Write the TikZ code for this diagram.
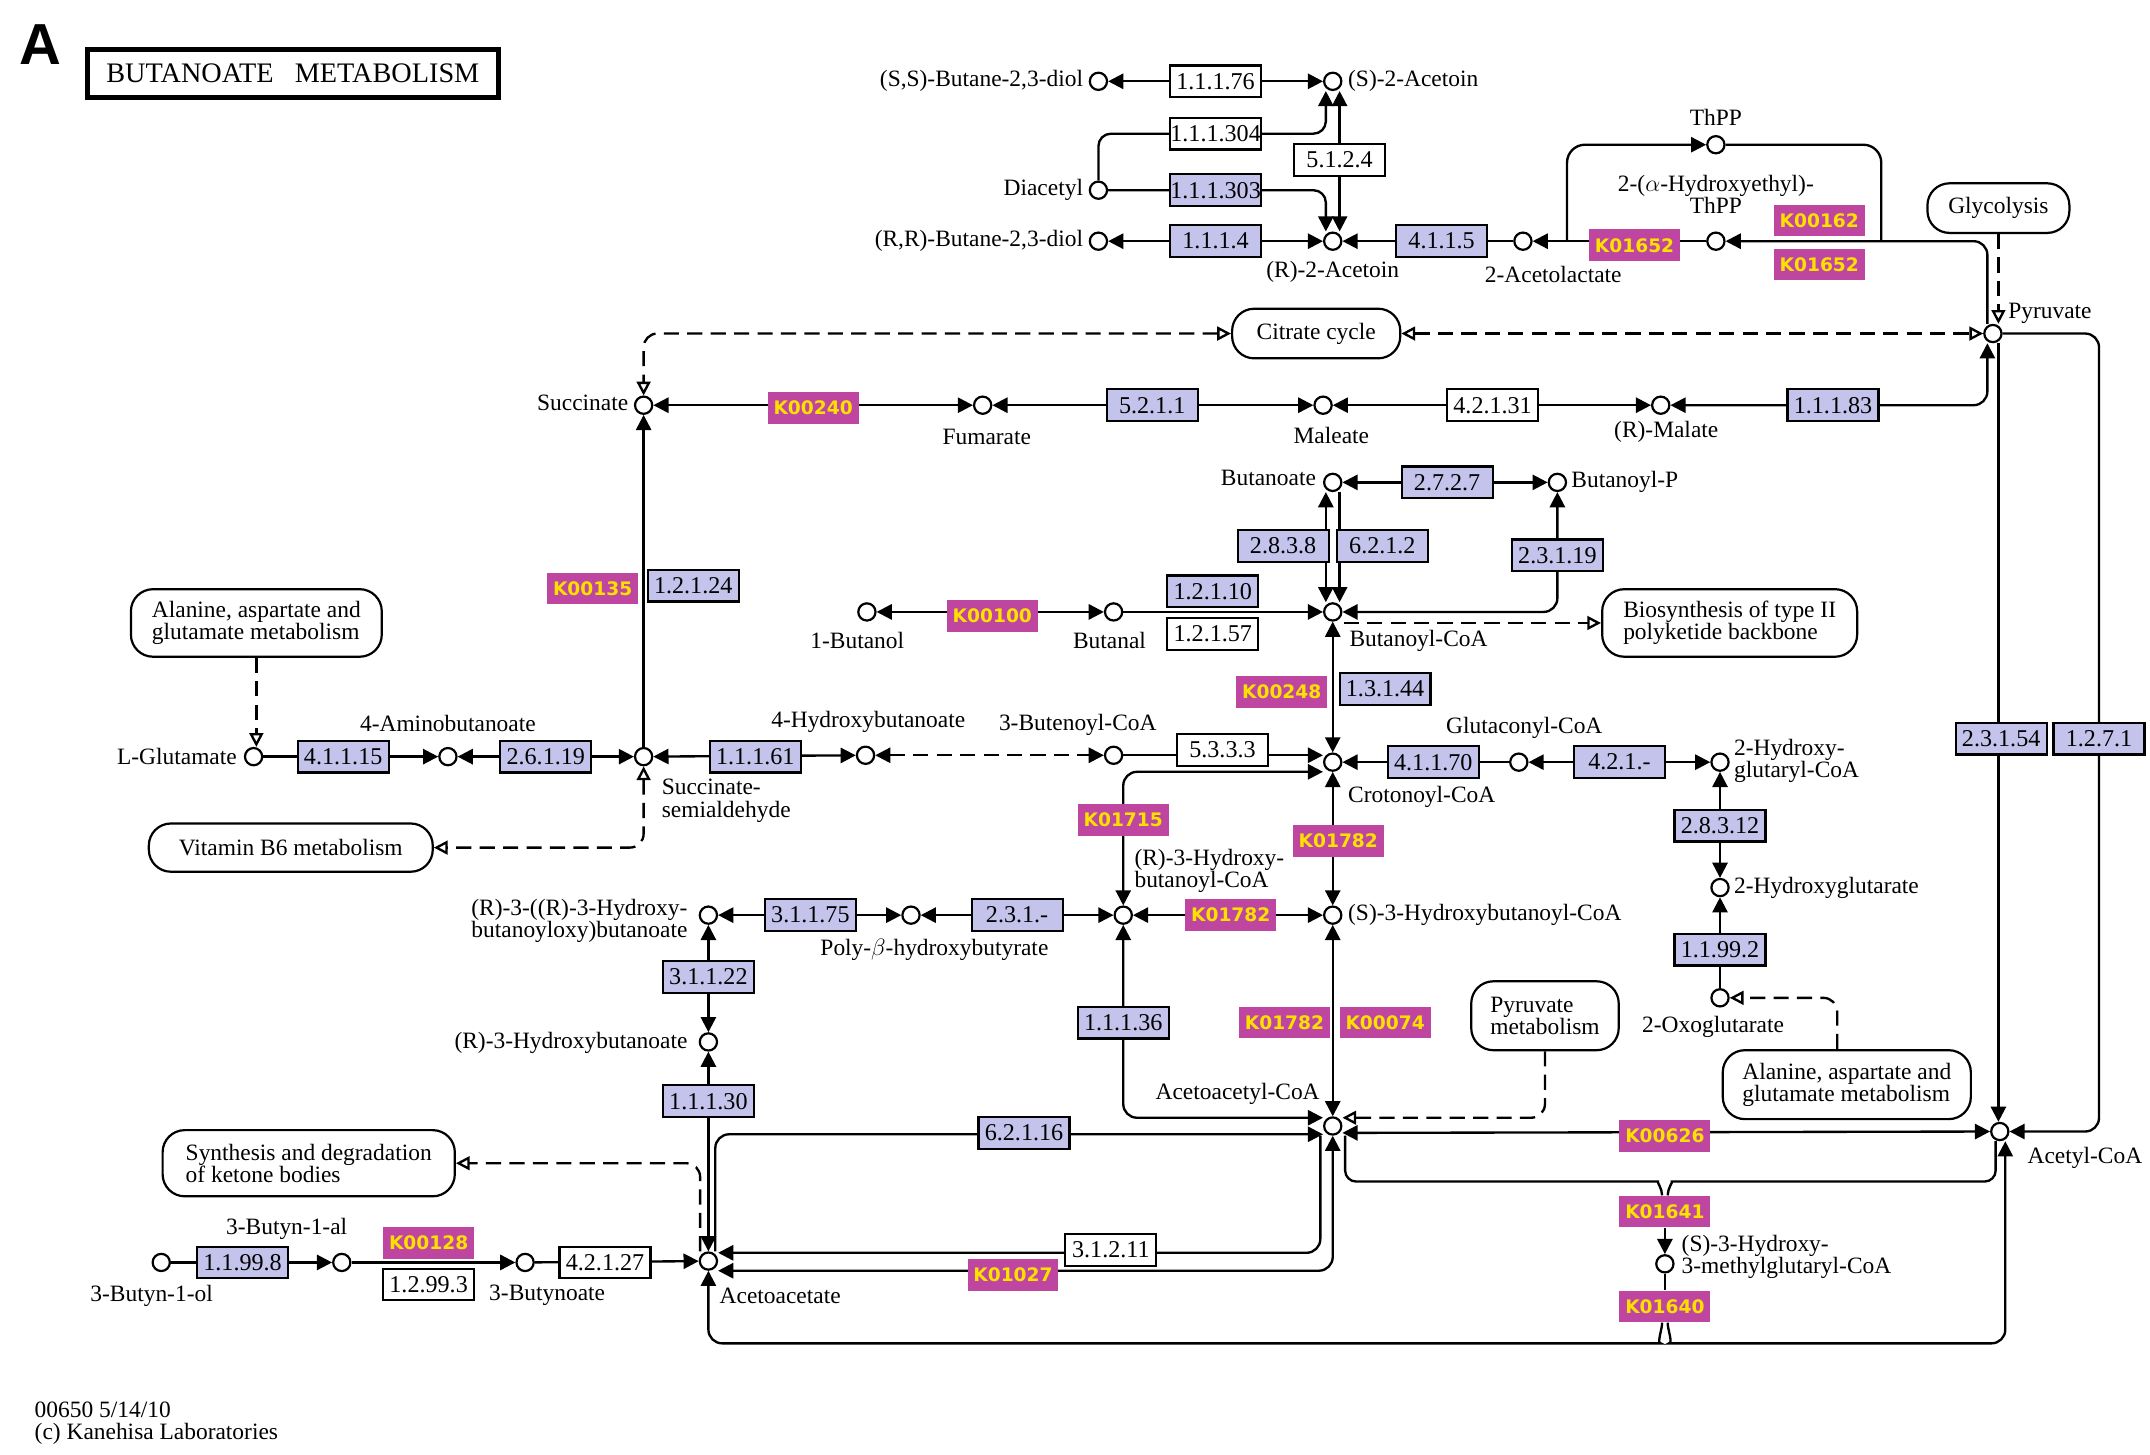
\documentclass[tikz,border=0pt]{standalone}
\usepackage{fontspec}
\setmainfont{Liberation Serif}
\newfontfamily\kofam{DejaVu Sans}
\newfontfamily\hfam{Liberation Sans}
\usetikzlibrary{arrows.meta,calc,backgrounds}
\definecolor{ecfill}{RGB}{195,195,235}
\definecolor{kofill}{RGB}{190,70,160}
\definecolor{koyel}{RGB}{255,225,0}
\newcommand\lblf{\fontsize{17}{16}\selectfont}
\newcommand\ecf{\fontsize{17.5}{17}\selectfont}
\newcommand\kof{\kofam\bfseries\fontsize{13.5}{14}\selectfont}
\tikzset{
 cpd/.style={circle,draw,fill=white,line width=1.6pt,inner sep=0pt,minimum size=12.5pt},
 ec/.style={draw,line width=1.6pt,fill=ecfill,minimum width=66pt,minimum height=23pt,inner sep=0pt,font=\ecf},
 ecw/.style={ec,fill=white},
 ko/.style={fill=kofill,minimum width=66pt,minimum height=23pt,inner sep=0pt,text=koyel,font=\kof},
 mapbox/.style={draw,rounded corners=16pt,line width=1.6pt,fill=white,align=left,font=\lblf,inner sep=0pt},
 lbl/.style={font=\lblf,inner sep=1pt,align=left},
 ln/.style={line width=1.7pt},
 dsh/.style={line width=1.7pt,dash pattern=on 11pt off 6pt},
 ar/.style={-{Triangle[length=11pt,width=11pt]}},
 ab/.style={{Triangle[length=11pt,width=11pt]}-{Triangle[length=11pt,width=11pt]}},
 oa/.style={-{Triangle[open,length=10pt,width=10pt]}},
 oo/.style={{Triangle[open,length=10pt,width=10pt]}-{Triangle[open,length=10pt,width=10pt]}},
}
\begin{document}
\begin{tikzpicture}[x=1pt,y=-1pt]
\useasboundingbox (0,0) rectangle (1560,1055);

% title
\node[font=\hfam\bfseries\fontsize{42}{42}\selectfont,inner sep=0pt] (lettera) at (29,32) {A};
\node[draw,line width=3.5pt,minimum width=298pt,minimum height=35pt,inner sep=0pt,font=\fontsize{20.5}{20}\selectfont] (title) at (212.5,53.5) {BUTANOATE\ \ \ METABOLISM};

% compounds
\foreach \n/\x/\y in {ssdiol/797/59, sac/967/59, diac/797/138, rrdiol/797/175, rac/967/175,
  acl/1105/175, heth/1245/175, thpp/1245/105, pyr/1446/242, succ/467/294, fum/713/294,
  mal/960/294, rmal/1205/294, buta/967/350, butp/1130/350, butanol/629/444, butanal/808/444,
  bcoa/967/444, glu/184/549, gaba/325/549, ssa/467/549, hba/628/548, butenoyl/808/548,
  crot/967/553, glut/1102/553, hgcoa/1248/553, hglut/1248/644, oxo/1248/724, r3r3/514/664,
  poly/661/664, r3hb/815/664, s3hb/967/664, r3hbut/514/756, acoa/967/817, acet/1451/821,
  acac/514/915, byol/117/916, byal/248/916, bynoate/381/916, hmg/1208/917}
  {\node[cpd] (\n) at (\x,\y) {};}

\coordinate (loopL) at (1137,175);
\coordinate (loopR) at (1365,175);

% compound labels
\node[lbl,anchor=east] (tssdiol) at (787,59) {(S,S)-Butane-2,3-diol};
\node[lbl,anchor=west] (tsac) at (977,59) {(S)-2-Acetoin};
\node[lbl,anchor=east] (tdiac) at (787,138) {Diacetyl};
\node[lbl,anchor=east] (trrdiol) at (787,175) {(R,R)-Butane-2,3-diol};
\node[lbl] (trac) at (967,197) {(R)-2-Acetoin};
\node[lbl] (tacl) at (1127,199) {2-Acetolactate};
\node[lbl] (tthpp) at (1245,85) {ThPP};
\node[lbl,align=center] (theth) at (1245,141) {2-($\alpha$-Hydroxyethyl)-\\ThPP};
\node[lbl,anchor=west] (tpyr) at (1456,227) {Pyruvate};
\node[lbl,anchor=east] (tsucc) at (457,292) {Succinate};
\node[lbl] (tfum) at (716,317) {Fumarate};
\node[lbl] (tmal) at (966,316) {Maleate};
\node[lbl] (trmal) at (1209,313) {(R)-Malate};
\node[lbl,anchor=east] (tbuta) at (956,347) {Butanoate};
\node[lbl,anchor=west] (tbutp) at (1139,350) {Butanoyl-P};
\node[lbl] (tbutanol) at (622,465) {1-Butanol};
\node[lbl] (tbutanal) at (805,465) {Butanal};
\node[lbl,anchor=west] (tbcoa) at (978,465) {Butanoyl-CoA};
\node[lbl,anchor=east] (tglu) at (173,549) {L-Glutamate};
\node[lbl] (tgaba) at (325,525) {4-Aminobutanoate};
\node[lbl,anchor=west] (tssa) at (479,581) {Succinate-\\semialdehyde};
\node[lbl] (thba) at (630,524) {4-Hydroxybutanoate};
\node[lbl] (tbutenoyl) at (782,526) {3-Butenoyl-CoA};
\node[lbl] (tglut) at (1106,528) {Glutaconyl-CoA};
\node[lbl,anchor=west] (thgcoa) at (1257,552) {2-Hydroxy-\\glutaryl-CoA};
\node[lbl,anchor=west] (tcrot) at (977,578) {Crotonoyl-CoA};
\node[lbl,anchor=west] (tr3hb) at (822,632) {(R)-3-Hydroxy-\\butanoyl-CoA};
\node[lbl,anchor=west] (ts3hb) at (977,664) {(S)-3-Hydroxybutanoyl-CoA};
\node[lbl,anchor=east] (tr3r3) at (500,668) {(R)-3-((R)-3-Hydroxy-\\butanoyloxy)butanoate};
\node[lbl] (tpoly) at (678,689) {Poly-$\beta$-hydroxybutyrate};
\node[lbl,anchor=west] (thglut) at (1257,644) {2-Hydroxyglutarate};
\node[lbl] (toxo) at (1243,745) {2-Oxoglutarate};
\node[lbl,anchor=east] (tr3hbut) at (500,757) {(R)-3-Hydroxybutanoate};
\node[lbl] (tacoa) at (898,794) {Acetoacetyl-CoA};
\node[lbl,anchor=west] (tacet) at (1470,840) {Acetyl-CoA};
\node[lbl] (tbyal) at (208,892) {3-Butyn-1-al};
\node[lbl] (tbyol) at (110,940) {3-Butyn-1-ol};
\node[lbl] (tbynoate) at (397,940) {3-Butynoate};
\node[lbl,anchor=west] (tacac) at (521,940) {Acetoacetate};
\node[lbl,anchor=west] (thmg) at (1219,912) {(S)-3-Hydroxy-\\3-methylglutaryl-CoA};
\node[lbl,anchor=north west] (foot) at (24,1016) {00650 5/14/10\\(c) Kanehisa Laboratories};

% map boxes
\node[mapbox,minimum width=103pt,minimum height=36pt] (glyc) at (1450,151) {Glycolysis};
\node[mapbox,minimum width=122pt,minimum height=36pt] (cit) at (955,242) {Citrate cycle};
\node[mapbox,minimum width=182pt,minimum height=49pt] (ala1) at (186,452) {Alanine, aspartate and\\glutamate metabolism};
\node[mapbox,minimum width=185pt,minimum height=49pt] (bio) at (1255,452) {Biosynthesis of type II\\polyketide backbone};
\node[mapbox,minimum width=206pt,minimum height=35pt] (vitb6) at (211,615) {Vitamin B6 metabolism};
\node[mapbox,minimum width=107pt,minimum height=50pt] (pyrmet) at (1121,737) {Pyruvate\\metabolism};
\node[mapbox,minimum width=180pt,minimum height=50pt] (ala2) at (1340,787) {Alanine, aspartate and\\glutamate metabolism};
\node[mapbox,minimum width=212pt,minimum height=48pt] (ketone) at (224,844) {Synthesis and degradation\\of ketone bodies};

% enzyme boxes
\node[ecw] (e1176) at (882,59) {1.1.1.76};
\node[ecw] (e1304) at (882,97) {1.1.1.304};
\node[ecw] (e5124) at (972,116) {5.1.2.4};
\node[ec] (e1303) at (882,138) {1.1.1.303};
\node[ec] (e1114) at (882,175) {1.1.1.4};
\node[ec] (e4115) at (1046,175) {4.1.1.5};
\node[ec] (e5211) at (836,294) {5.2.1.1};
\node[ecw] (e42131) at (1083,294) {4.2.1.31};
\node[ec] (e11183) at (1330,294) {1.1.1.83};
\node[ec] (e2727) at (1050,350) {2.7.2.7};
\node[ec] (e2838) at (931,396) {2.8.3.8};
\node[ec] (e6212) at (1003,396) {6.2.1.2};
\node[ec] (e23119) at (1130,403) {2.3.1.19};
\node[ec] (e12124) at (503,425) {1.2.1.24};
\node[ec] (e12110) at (880,429) {1.2.1.10};
\node[ecw] (e12157) at (880,460) {1.2.1.57};
\node[ec] (e13144) at (1005,500) {1.3.1.44};
\node[ec] (e41115) at (249,549) {4.1.1.15};
\node[ec] (e26119) at (396,549) {2.6.1.19};
\node[ec] (e11161) at (548,549) {1.1.1.61};
\node[ecw] (e5333) at (887,544) {5.3.3.3};
\node[ec] (e41170) at (1040,553) {4.1.1.70};
\node[ec] (e421) at (1175,553) {4.2.1.-};
\node[ec] (e23154) at (1452,536) {2.3.1.54};
\node[ec] (e1271) at (1523,536) {1.2.7.1};
\node[ec] (e28312) at (1248,599) {2.8.3.12};
\node[ec] (e31175) at (588,664) {3.1.1.75};
\node[ec] (e231) at (738,664) {2.3.1.-};
\node[ec] (e11992) at (1248,689) {1.1.99.2};
\node[ec] (e31122) at (514,709) {3.1.1.22};
\node[ec] (e11136) at (815,742) {1.1.1.36};
\node[ec] (e11130) at (514,799) {1.1.1.30};
\node[ec] (e62116) at (743,822) {6.2.1.16};
\node[ec] (e11998) at (176,916) {1.1.99.8};
\node[ecw] (e12993) at (311,932) {1.2.99.3};
\node[ecw] (e42127) at (439,916) {4.2.1.27};
\node[ecw] (e31211) at (806,907) {3.1.2.11};

% KO boxes
\node[ko] (k1652a) at (1186,178) {K01652};
\node[ko] (k0162) at (1320,160) {K00162};
\node[ko] (k1652b) at (1320,192) {K01652};
\node[ko] (k0240) at (590,296) {K00240};
\node[ko] (k0135) at (430,427) {K00135};
\node[ko] (k0100) at (720,447) {K00100};
\node[ko] (k0248) at (930,502) {K00248};
\node[ko] (k1715) at (815,595) {K01715};
\node[ko] (k1782a) at (971,610) {K01782};
\node[ko] (k1782b) at (893,664) {K01782};
\node[ko] (k1782c) at (932,742) {K01782};
\node[ko] (k0074) at (1005,742) {K00074};
\node[ko] (k0626) at (1208,824) {K00626};
\node[ko] (k1641) at (1208,879) {K01641};
\node[ko] (k0128) at (311,902) {K00128};
\node[ko] (k1027) at (735,925) {K01027};
\node[ko] (k1640) at (1208,948) {K01640};

\begin{scope}[on background layer]
\fill[white] (0,0) rectangle (1560,1055);
% top
\draw[ln,ab] (ssdiol) -- (sac);
\draw[ln,ar,rounded corners=9pt] (diac.north) |- (e1304.center) -| ([xshift=-5pt]sac.south);
\draw[ln,ar,rounded corners=9pt] (diac.east) -- (e1303.center) -| ([xshift=-5pt]rac.north);
\draw[ln,ab] ([xshift=5pt]sac.south) -- ([xshift=5pt]rac.north);
\draw[ln,ab] (rrdiol) -- (rac);
\draw[ln,ar] (acl) -- (rac);
\draw[ln,ar] (heth) -- (acl);
\draw[ln,ar,rounded corners=13pt] (loopL) |- (thpp.west);
\draw[ln,rounded corners=13pt] (thpp.east) -| (loopR);
\draw[ln,ar,rounded corners=10pt] ([xshift=-4pt]pyr.north) |- (heth.east);
\draw[dsh,oa] (glyc.south) -- (glyc.south |- pyr.north);
\draw[dsh,oo] (cit.east) -- (pyr.west);
\draw[dsh,oo,rounded corners=10pt] (cit.west) -| (succ.north);
% succinate row
\draw[ln,ab] (succ) -- (fum);
\draw[ln,ab] (fum) -- (mal);
\draw[ln,ab] (mal) -- (rmal);
\draw[ln,ab,rounded corners=10pt] (rmal) -| ([xshift=-4pt]pyr.south);
% pyruvate to acetyl-CoA
\draw[ln,ar] ([xshift=4pt]pyr.south) -- ([xshift=4pt]pyr.south |- acet.north);
\draw[ln,ar,rounded corners=10pt] (pyr.east) -| (e1271.center) |- (acet.east);
% left side
\draw[ln,ar] (ssa) -- (succ);
\draw[dsh,oa] (ala1.south) -- (ala1.south |- glu.north);
\draw[ln,ar] (glu) -- (gaba);
\draw[ln,ab] (gaba) -- (ssa);
\draw[ln,ab] (ssa) -- (hba);
\draw[dsh,ab] (hba) -- (butenoyl);
\draw[dsh,oo,rounded corners=10pt] (ssa.south) |- (vitb6.east);
% butanoate
\draw[ln,ab] (buta) -- (butp);
\draw[ln,ab] ([xshift=-5pt]buta.south) -- ([xshift=-5pt]bcoa.north);
\draw[ln,ar] ([xshift=5pt]buta.south) -- ([xshift=5pt]bcoa.north);
\draw[ln,ab,rounded corners=10pt] (butp.south) |- (bcoa.east);
\draw[ln,ab] (butanol) -- (butanal);
\draw[ln,ar] (butanal) -- (bcoa);
\draw[dsh,oa] ($(bcoa)+(8,8)$) -- (bio.west);
\draw[ln,ab] (bcoa) -- (crot);
% crotonoyl
\draw[ln,ar] (butenoyl.east) -- (butenoyl.east -| crot.west);
\draw[ln,ar] (glut) -- (crot);
\draw[ln,ab] (glut) -- (hgcoa);
\draw[ln,ab] (hgcoa) -- (hglut);
\draw[ln,ar] (oxo) -- (hglut);
\draw[dsh,oa,rounded corners=10pt] ([xshift=-7pt]ala2.north) |- (oxo.east);
\draw[ln,ab,rounded corners=10pt] (r3hb.north) |- ([yshift=-7pt]crot.west);
\draw[ln,ab] (crot) -- (s3hb);
\draw[ln,ab] (r3hb) -- (s3hb);
\draw[ln,ab] (poly) -- (r3hb);
\draw[ln,ab] (r3r3) -- (poly);
\draw[ln,ab] (r3r3) -- (r3hbut);
\draw[ln,ab] (acac) -- (r3hbut);
% acetoacetyl-CoA
\draw[ln,ab,rounded corners=10pt] (r3hb.south) |- ([yshift=6pt]acoa.west);
\draw[ln,ab] (s3hb) -- (acoa);
\draw[dsh,oa,rounded corners=10pt] (pyrmet.south) |- ([yshift=6pt]acoa.east);
\draw[ln,ar,rounded corners=10pt] ([xshift=5pt]acac.north) |- ([yshift=-6pt]acoa.west);
\draw[dsh,oa,rounded corners=10pt] ([xshift=-6pt]acac.north) |- (ketone.east);
\draw[ln,ar,rounded corners=10pt] ([xshift=-9pt]acoa.south) |- ([yshift=6pt]acac.east);
\draw[ln,ab,rounded corners=10pt] (acoa.south) |- ([yshift=-7pt]acac.east);
\draw[ln,ab] ([yshift=-5pt]acoa.east) -- (acet.west);
% HMG-CoA
\draw[ln,rounded corners=8pt] ([xshift=9pt]acoa.south) |- ($(k1641.north)+(-13,-10)$) .. controls +(7,0) and +(0,-5) .. ($(k1641.north)+(-2,0)$);
\draw[ln,rounded corners=8pt] ([xshift=-3pt]acet.south) |- ($(k1641.north)+(13,-10)$) .. controls +(-7,0) and +(0,-5) .. ($(k1641.north)+(2,0)$);
\draw[ln,ar] (k1641) -- (hmg);
\draw[ln] (hmg) -- (k1640);
\draw[ln,ar,rounded corners=10pt] ($(k1640.south)+(-2,0)$) .. controls +(0,5) and +(7,0) .. ($(k1640.south)+(-13,15)$) -| (acac.south);
\draw[ln,ar,rounded corners=10pt] ($(k1640.south)+(2,0)$) .. controls +(0,5) and +(-7,0) .. ($(k1640.south)+(13,15)$) -| ([xshift=4pt]acet.south);
% bottom left
\draw[ln,ar] (byol) -- (byal);
\draw[ln,ar] (byal) -- (bynoate);
\draw[ln,ar] (bynoate) -- (acac);
\end{scope}
\end{tikzpicture}
\end{document}
